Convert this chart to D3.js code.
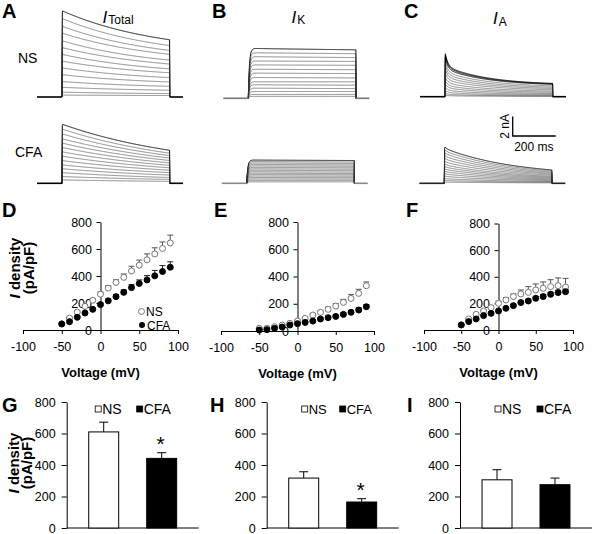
<!DOCTYPE html>
<html><head><meta charset="utf-8">
<script src="https://cdn.jsdelivr.net/npm/d3@7"></script>
<style>
body{margin:0;background:#fff}
svg{display:block}
text{font-family:"Liberation Sans",Arial,Helvetica,sans-serif;fill:#000}
</style>
</head><body>
<svg id="c" width="600" height="534"></svg>
<script>
// ---------------- DATA ----------------
// Raw current traces (nA): amplitude at step onset and at step end (500 ms step)
const traceTotalNSPeak = [8.9, 8.1, 7.3, 6.6, 5.8, 5.1, 4.4, 3.7, 3.0, 2.3, 1.6, 1.0, 0.5, 0.2];
const traceTotalNSEnd  = [5.9, 5.3, 4.8, 4.4, 3.8, 3.4, 2.9, 2.5, 2.0, 1.55, 1.1, 0.7, 0.35, 0.15];
const traceTotalCFAPeak = [6.1, 5.6, 5.1, 4.6, 4.15, 3.7, 3.25, 2.8, 2.35, 1.9, 1.5, 1.1, 0.7, 0.35];
const traceTotalCFAEnd  = [3.4, 3.1, 2.85, 2.6, 2.35, 2.1, 1.85, 1.6, 1.35, 1.1, 0.85, 0.6, 0.4, 0.2];
const traceKNSPeak = [5.15, 4.7, 4.3, 3.85, 3.45, 3.0, 2.6, 2.15, 1.7, 1.4, 1.05, 0.7, 0.4, 0.2];
const traceKNSEnd  = [5.0, 4.6, 4.2, 3.8, 3.4, 2.95, 2.55, 2.1, 1.7, 1.35, 1.0, 0.7, 0.4, 0.2];
const traceKCFAPeak = [2.4, 2.25, 2.1, 1.95, 1.8, 1.65, 1.5, 1.35, 1.2, 1.05, 0.9, 0.75, 0.6, 0.45, 0.3, 0.15];
const traceKCFAEnd  = [2.35, 2.2, 2.05, 1.9, 1.75, 1.6, 1.45, 1.3, 1.15, 1.0, 0.88, 0.73, 0.58, 0.44, 0.3, 0.15];
const traceANSPeak = [4.65, 4.45, 4.2, 3.75, 3.35, 2.95, 2.55, 2.1, 1.7, 1.35, 0.98, 0.65, 0.35, 0.15];
const traceANSEnd  = [1.37, 1.33, 1.28, 1.12, 0.98, 0.85, 0.72, 0.58, 0.46, 0.34, 0.24, 0.15, 0.08, 0.03];
const traceACFAPeak = [3.8, 3.5, 3.2, 2.9, 2.6, 2.3, 2.0, 1.75, 1.5, 1.25, 1.0, 0.75, 0.5, 0.3, 0.12];
const traceACFAEnd  = [1.37, 1.26, 1.15, 1.04, 0.94, 0.83, 0.72, 0.63, 0.54, 0.45, 0.36, 0.27, 0.18, 0.11, 0.05];

// I-V relations (pA/pF)
const voltages = [-50, -40, -30, -20, -10, 0, 10, 20, 30, 40, 50, 60, 70, 80, 90];
const ivTotalNS     = [45, 88, 132, 175, 220, 265, 310, 352, 390, 437, 480, 520, 563, 604, 645];
const ivTotalNSErr  = [6, 8, 10, 12, 14, 16, 18, 20, 25, 35, 38, 44, 46, 48, 58];
const ivTotalCFA    = [45, 62, 94, 126, 153, 188, 216, 247, 279, 314, 345, 371, 401, 433, 465];
const ivTotalCFAErr = [5, 6, 8, 9, 10, 12, 14, 16, 18, 22, 26, 32, 40, 44, 40];
const ivKNS     = [20, 20, 32, 44, 56, 73, 93, 117, 137, 159, 183, 210, 239, 276, 332];
const ivKNSErr  = [3, 3, 4, 5, 6, 8, 10, 12, 14, 16, 18, 22, 28, 30, 28];
const ivKCFA    = [7, 10, 20, 29, 44, 54, 63, 73, 88, 98, 107, 122, 137, 154, 178];
const ivKCFAErr = [2, 2, 3, 4, 5, 6, 7, 8, 9, 10, 11, 12, 14, 16, 16];
const ivANS     = [38, 83, 118, 143, 168, 200, 226, 251, 271, 283, 301, 313, 326, 333, 323];
const ivANSErr  = [5, 8, 10, 12, 14, 16, 18, 20, 30, 43, 45, 48, 52, 58, 65];
const ivACFA    = [38, 63, 83, 108, 125, 143, 163, 183, 206, 218, 238, 251, 268, 281, 288];
const ivACFAErr = [4, 5, 6, 7, 8, 9, 10, 11, 12, 13, 14, 15, 16, 17, 18];

// Bar summaries (pA/pF)
const groups = ["NS", "CFA"];
const barTotal = [610, 442], barTotalErr = [62, 36], barTotalSig = [false, true];
const barK = [317, 165], barKErr = [40, 21], barKSig = [false, true];
const barA = [306, 275], barAErr = [64, 42], barASig = [false, false];

// Ticks
const ivXTicks = [-100, -50, 0, 50, 100];
const yTicks = [0, 200, 400, 600, 800];

// ---------------- DRAWING ----------------
const svg = d3.select("#c");
svg.append("rect").attr("width", 600).attr("height", 534).attr("fill", "#fff");
const FONT = '"Liberation Sans",Arial,Helvetica,sans-serif';
const pxPerNA = 9.7;

function current(t, P, E, k) {
  const ef = Math.exp(-500 / k.tauF), es = Math.exp(-500 / k.tauS);
  const F = P * k.fast;
  const L = (P - F - E + F * ef) / (1 - es);
  const S = P - F - L;
  const act = 1 - Math.exp(-t / k.tauAct);
  return act * (S + L * Math.exp(-t / k.tauS) + F * Math.exp(-t / k.tauF));
}

function drawTraces(onsetX, baseY, peaks, ends, k, baseColor, nDark) {
  const x = d3.scaleLinear().domain([0, 500]).range([onsetX, onsetX + 107.7]);
  const y = d3.scaleLinear().domain([0, 1]).range([baseY, baseY - pxPerNA]);
  const ts = d3.range(0, 500.01, 1.5);
  const line = d3.line().x(d => x(d[0])).y(d => y(d[1]));
  const g = svg.append("g");
  peaks.forEach((P, i) => {
    const E = ends[i];
    const pts = [[0, 0]].concat(ts.map(t => [t, current(t, P, E, k)])).concat([[500, 0]]);
    const dark = i < nDark;
    g.append("path").attr("d", line(pts)).attr("fill", "none")
      .attr("stroke", dark ? "#000" : "#333").attr("stroke-width", dark ? 1 : 0.7)
      .attr("stroke-opacity", dark ? 0.95 : 0.8);
  });
  g.append("path").attr("d", line([[-116, 0], [0, 0]])).attr("stroke", baseColor).attr("stroke-width", 1.6).attr("fill", "none");
  g.append("path").attr("d", line([[500, 0], [562, 0]])).attr("stroke", baseColor).attr("stroke-width", 1.6).attr("fill", "none");
  return {x, y};
}

const kinTotal = {tauS: 450, tauF: 10, fast: 0, tauAct: 0.4};
const kinTotalCFA = {tauS: 600, tauF: 10, fast: 0, tauAct: 0.4};
const kinK = {tauS: 1000, tauF: 10, fast: 0, tauAct: 5};
const kinA = {tauS: 200, tauF: 12, fast: 0.32, tauAct: 0.3};
const kinACFA = {tauS: 330, tauF: 12, fast: 0.05, tauAct: 0.5};

drawTraces(62, 97, traceTotalNSPeak, traceTotalNSEnd, kinTotal, "#000", 1);
drawTraces(62, 183.3, traceTotalCFAPeak, traceTotalCFAEnd, kinTotalCFA, "#000", 1);
drawTraces(248.3, 98.3, traceKNSPeak, traceKNSEnd, kinK, "#777", 1);
drawTraces(246.7, 183.3, traceKCFAPeak, traceKCFAEnd, kinK, "#888", 1);
drawTraces(445, 96.7, traceANSPeak, traceANSEnd, kinA, "#000", 3);
const cScale = drawTraces(444.3, 183.3, traceACFAPeak, traceACFAEnd, kinACFA, "#222", 1);

// scale bar: 2 nA, 200 ms
const sbX = 512.7, sbY = 136;
const sbW = cScale.x(200) - cScale.x(0), sbH = cScale.y(0) - cScale.y(2);
svg.append("path").attr("d", `M${sbX},${sbY - sbH}V${sbY}H${sbX + sbW}`).attr("fill", "none").attr("stroke", "#000").attr("stroke-width", 1.3);
svg.append("text").attr("transform", `translate(${sbX - 4},${sbY - sbH / 2}) rotate(-90)`).attr("text-anchor", "middle")
  .style("font-size", "12px").text("2 nA");
svg.append("text").attr("x", sbX + 1.5).attr("y", sbY + 15).style("font-size", "12px").text("200 ms");

// trace labels
svg.append("text").attr("x", 18).attr("y", 63).style("font-size", "14px").text("NS");
svg.append("text").attr("x", 15).attr("y", 157).style("font-size", "14px").text("CFA");

function currentTitle(x, yb, sub, subDy) {
  const t = svg.append("text").attr("x", x).attr("y", yb);
  t.append("tspan").style("font-style", "italic").style("font-size", "17px").text("I");
  t.append("tspan").attr("dx", 1).attr("dy", subDy).style("font-size", "12px").text(sub);
}
currentTitle(102.5, 22.7, "Total", 1.6);
currentTitle(291.5, 22.7, "K", 1.5);
currentTitle(493, 24, "A", 2);

// panel letters
const letters = [["A", 2, 18], ["B", 212, 18], ["C", 404, 18], ["D", 2, 217], ["E", 214, 217], ["F", 406, 217], ["G", 2, 412], ["H", 210, 412], ["I", 407, 412]];
letters.forEach(([l, x, y]) => svg.append("text").attr("x", x).attr("y", y)
  .style("font-size", "20px").style("font-weight", "bold").text(l));

function yLabel(cx, cy) {
  const t1 = svg.append("text").attr("transform", `translate(${cx},${cy}) rotate(-90)`)
    .attr("text-anchor", "middle").attr("dominant-baseline", "central")
    .style("font-size", "15px").style("font-weight", "bold");
  t1.append("tspan").style("font-style", "italic").text("I");
  t1.append("tspan").text(" density");
  svg.append("text").attr("transform", `translate(${cx + 14},${cy}) rotate(-90)`)
    .attr("text-anchor", "middle").attr("dominant-baseline", "central")
    .style("font-size", "15px").style("font-weight", "bold").text("(pA/pF)");
}
yLabel(14, 268);
yLabel(12.5, 463);

function styleAxis(g, fs) {
  g.select(".domain").attr("stroke", "#000").attr("stroke-width", 1);
  g.selectAll(".tick line").attr("stroke", "#000");
  g.selectAll(".tick text").attr("fill", "#000").style("font-size", fs).style("font-family", FONT);
}

function drawIV(x0, x1, y0, y1, ns, nsErr, cfa, cfaErr) {
  const x = d3.scaleLinear().domain([-100, 100]).range([x0, x1]);
  const y = d3.scaleLinear().domain([0, 800]).range([y0, y1]);
  const g = svg.append("g");
  const ya = g.append("g").attr("transform", `translate(${x(0)},0)`)
    .call(d3.axisLeft(y).tickValues(yTicks).tickSize(4).tickPadding(4.5).tickSizeOuter(0).tickFormat(d => String(d)));
  styleAxis(ya, "12.5px");
  const xa = g.append("g").attr("transform", `translate(0,${y(0)})`)
    .call(d3.axisBottom(x).tickValues(ivXTicks).tickSize(4).tickPadding(8).tickSizeOuter(0).tickFormat(d => String(d)));
  styleAxis(xa, "12.5px");
  g.append("text").attr("x", x(0)).attr("y", y0 + 47).attr("text-anchor", "middle")
    .style("font-size", "13px").style("font-weight", "bold").text("Voltage (mV)");
  const series = [[ns, nsErr, "#fff", "#777"], [cfa, cfaErr, "#000", "#000"]];
  series.forEach(([vals, errs, fill, stroke]) => {
    voltages.forEach((v, i) => {
      const cx = x(v), top = y(vals[i] + errs[i]);
      g.append("path").attr("d", `M${cx},${y(vals[i])}V${top}M${cx - 3},${top}H${cx + 3}`)
        .attr("stroke", stroke === "#777" ? "#555" : "#222").attr("stroke-width", 1).attr("fill", "none");
    });
  });
  series.forEach(([vals, errs, fill, stroke]) => {
    g.selectAll(null).data(voltages).enter().append("circle")
      .attr("cx", v => x(v)).attr("cy", (v, i) => y(vals[i])).attr("r", 3)
      .attr("fill", fill).attr("stroke", stroke).attr("stroke-width", 1);
  });
  return {x, y, g};
}

const ivD = drawIV(23, 178, 330, 222, ivTotalNS, ivTotalNSErr, ivTotalCFA, ivTotalCFAErr);
drawIV(221, 374, 331, 222, ivKNS, ivKNSErr, ivKCFA, ivKCFAErr);
drawIV(424, 573, 330, 223.5, ivANS, ivANSErr, ivACFA, ivACFAErr);

// legend in D
svg.append("circle").attr("cx", 141.5).attr("cy", 311.5).attr("r", 3).attr("fill", "#fff").attr("stroke", "#777");
svg.append("text").attr("x", 146).attr("y", 315.5).style("font-size", "12px").text("NS");
svg.append("circle").attr("cx", 142).attr("cy", 325).attr("r", 3).attr("fill", "#000");
svg.append("text").attr("x", 147).attr("y", 329.5).style("font-size", "12px").text("CFA");

function drawBars(axisX, vals, errs, sig, legOff, fs) {
  const y = d3.scaleLinear().domain([0, 800]).range([528, 402]);
  const x = d3.scaleBand().domain(groups).range([axisX, axisX + 132]).paddingInner(0.483).paddingOuter(0.38);
  const g = svg.append("g");
  const ya = g.append("g").attr("transform", `translate(${axisX},0)`)
    .call(d3.axisLeft(y).tickValues(yTicks).tickSize(5).tickPadding(6).tickSizeOuter(0).tickFormat(d => String(d)));
  styleAxis(ya, "12.5px");
  g.append("path").attr("d", `M${axisX},${y(0)}H${axisX + 132}`).attr("stroke", "#000").attr("stroke-width", 1);
  groups.forEach((grp, i) => {
    const cx = x(grp) + x.bandwidth() / 2, top = y(vals[i] + errs[i]);
    g.append("path").attr("d", `M${cx},${y(vals[i])}V${top}M${cx - 4.5},${top}H${cx + 4.5}`)
      .attr("stroke", "#000").attr("stroke-width", 1).attr("fill", "none");
    g.append("rect").attr("x", x(grp)).attr("y", y(vals[i])).attr("width", x.bandwidth())
      .attr("height", y(0) - y(vals[i])).attr("fill", i === 0 ? "#fff" : "#000")
      .attr("stroke", "#000").attr("stroke-width", 1);
    if (sig[i]) {
      g.append("text").attr("x", cx - 1).attr("y", top - 2).attr("text-anchor", "middle")
        .style("font-size", "21px").text("*");
    }
  });
  groups.forEach((grp, i) => {
    const lx = axisX + legOff[i];
    g.append("rect").attr("x", lx).attr("y", 406).attr("width", 6).attr("height", 6)
      .attr("fill", i === 0 ? "#fff" : "#000").attr("stroke", "#000").attr("stroke-width", 0.8);
    g.append("text").attr("x", lx + 7).attr("y", 414.3).style("font-size", fs).text(grp);
  });
}

drawBars(66.7, barTotal, barTotalErr, barTotalSig, [28.5, 70], "14px");
drawBars(266.7, barK, barKErr, barKSig, [35, 73], "13px");
drawBars(460, barA, barAErr, barASig, [35, 77], "14px");
</script>
</body></html>
